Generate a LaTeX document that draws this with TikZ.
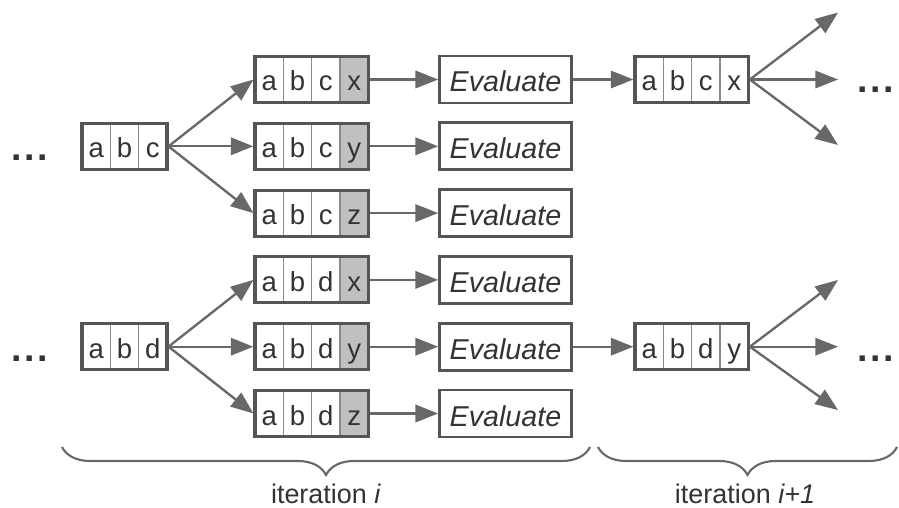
\documentclass[tikz,border=0pt]{standalone}
\usepackage{fontspec}
\setmainfont{Liberation Sans}
\usetikzlibrary{arrows.meta,fit,decorations.pathreplacing}

\definecolor{boxline}{HTML}{555555}
\definecolor{divline}{HTML}{8A8A8A}
\definecolor{shade}{HTML}{C0C0C0}
\definecolor{ink}{HTML}{333333}
\definecolor{arrowc}{HTML}{686868}

\tikzset{
  cell/.style={draw=divline, line width=1pt, minimum width=0.85cm,
    minimum height=1.38cm, inner sep=0pt, outer sep=0pt, text=ink,
    text height=0.72cm, text depth=0.03cm, font=\fontsize{23.5}{26}\selectfont},
  seqframe/.style={draw=boxline, line width=2.6pt, inner sep=0pt},
  evalbox/.style={draw=boxline, line width=2.3pt, minimum width=3.96cm,
    minimum height=1.41cm, inner sep=0pt, text=ink, text height=0.75cm,
    text depth=0pt, font=\fontsize{24.5}{28}\selectfont\itshape},
  link/.style={draw=arrowc, line width=2pt,
    -{Triangle[length=0.68cm,width=0.52cm]}},
  dotsnode/.style={text=ink, anchor=base, font=\fontsize{32}{36}\selectfont\bfseries},
  bracec/.style={draw=arrowc, line width=1.8pt, decorate,
    decoration={brace, mirror, amplitude=0.84cm}},
  itlabel/.style={text=ink, anchor=base, font=\fontsize{23}{28}\selectfont}
}

% #1 name, #2 left x, #3 centre y, #4 number of cells, #5 shaded cell (0: none), #6 letters
\newcommand{\seqbox}[6]{%
  \foreach \ch [count=\k] in {#6} {%
    \ifnum\k=#5 \def\cellfill{shade}\else\def\cellfill{white}\fi
    \node[cell, fill=\cellfill, anchor=west] (#1-\k) at ({#2+(\k-1)*28.3333},#3) {\ch};
  }%
  \node[seqframe, fit=(#1-1)(#1-#4)] (#1) {};%
}

\begin{document}
\begin{tikzpicture}[x=0.03cm,y=-0.03cm]
\useasboundingbox (0,0) rectangle (899,508);

% current partial sequences
\seqbox{l1}{82}{146.3}{3}{0}{a,b,c}
\seqbox{l5}{82}{346.7}{3}{0}{a,b,d}

% extended candidates
\seqbox{m1}{255}{79.5}{4}{4}{a,b,c,x}
\seqbox{m2}{255}{146.3}{4}{4}{a,b,c,y}
\seqbox{m3}{255}{213.1}{4}{4}{a,b,c,z}
\seqbox{m4}{255}{279.9}{4}{4}{a,b,d,x}
\seqbox{m5}{255}{346.7}{4}{4}{a,b,d,y}
\seqbox{m6}{255}{413.5}{4}{4}{a,b,d,z}

% evaluation steps
\foreach \r/\y in {1/79.5,2/146.3,3/213.1,4/279.9,5/346.7,6/413.5}
  \node[evalbox] (e\r) at (505.5,\y) {Evaluate};

% survivors for the next iteration
\seqbox{r1}{635}{79.5}{4}{0}{a,b,c,x}
\seqbox{r5}{635}{346.7}{4}{0}{a,b,d,y}

% ellipses
\node[dotsnode] (dl1) at (29.5,161) {.\hspace{0.08cm}.\hspace{0.08cm}.};
\node[dotsnode] (dl5) at (29.5,361) {.\hspace{0.08cm}.\hspace{0.08cm}.};
\node[dotsnode] (dr1) at (875.5,93) {.\hspace{0.08cm}.\hspace{0.08cm}.};
\node[dotsnode] (dr5) at (875.5,361) {.\hspace{0.08cm}.\hspace{0.08cm}.};

% fan-out end points
\coordinate (f1a) at (838,12.5);
\coordinate (f1b) at (838,79.5);
\coordinate (f1c) at (838,145);
\coordinate (f5a) at (838,280);
\coordinate (f5b) at (838,346.7);
\coordinate (f5c) at (838,410);

% connectors
\foreach \t in {m1,m2,m3} \draw[link] (l1.east) -- (\t.west);
\foreach \t in {m4,m5,m6} \draw[link] (l5.east) -- (\t.west);
\foreach \r in {1,...,6} \draw[link] (m\r.east) -- (e\r.west);
\draw[link] (e1.east) -- (r1.west);
\draw[link] (e5.east) -- (r5.west);
\foreach \t in {f1a,f1b,f1c} \draw[link] (r1.east) -- (\t);
\foreach \t in {f5a,f5b,f5c} \draw[link] (r5.east) -- (\t);

% iteration braces
\coordinate (b1s) at (62,447);
\coordinate (b1e) at (590,447);
\coordinate (b2s) at (598,447);
\coordinate (b2e) at (897,447);
\draw[bracec] (b1s) -- (b1e);
\draw[bracec] (b2s) -- (b2e);
\node[itlabel] (it1) at (326,503) {iteration \textit{i}};
\node[itlabel] (it2) at (745,503) {iteration \textit{i+1}};
\end{tikzpicture}
\end{document}
